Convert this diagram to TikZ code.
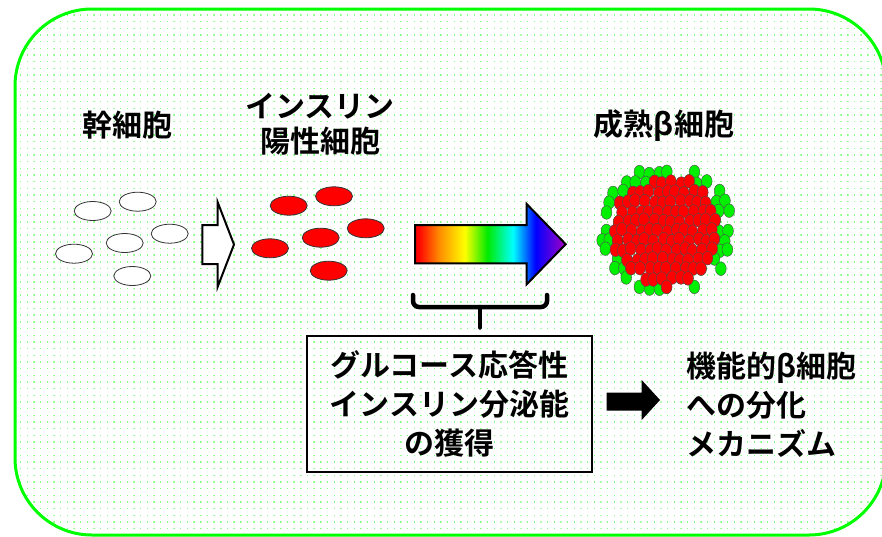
\documentclass[tikz,border=0pt]{standalone}
\usepackage{fontspec}
\setmainfont{Noto Sans CJK JP}[BoldFont={Noto Sans CJK JP Bold}]
\usetikzlibrary{patterns}

\definecolor{framegreen}{RGB}{0,255,0}
\definecolor{dotgreen}{RGB}{130,255,130}
\definecolor{cellred}{RGB}{255,0,0}
\definecolor{cellgreen}{RGB}{0,240,0}
\definecolor{brightgreen}{RGB}{0,235,0}
\definecolor{orangemid}{RGB}{255,140,0}
\definecolor{purpleend}{RGB}{150,0,200}

% light green dot grid used as the panel texture
\pgfdeclarepatternformonly{griddots}{\pgfpointorigin}{\pgfqpoint{1.4pt}{1.4pt}}{\pgfqpoint{6.67pt}{6.67pt}}{%
  \pgfpathrectangle{\pgfpointorigin}{\pgfqpoint{1.4pt}{1.4pt}}\pgfusepath{fill}}

% rainbow for the maturation arrow (TikZ maps 25bp..75bp onto the path)
\pgfdeclarehorizontalshading{rainbowsh}{100bp}{%
  color(0bp)=(red); color(26bp)=(red); color(33bp)=(orangemid); color(41.5bp)=(yellow);
  color(49bp)=(brightgreen); color(57.5bp)=(cyan); color(65bp)=(blue);
  color(74bp)=(purpleend); color(100bp)=(purpleend)}

\tikzset{
  lbl/.style={inner sep=0pt, font=\bfseries\fontsize{30}{39}\selectfont},
  stemcell/.style={draw=black!80, line width=0.8pt, fill=white},
  redcell/.style={draw=black!80, line width=0.8pt, fill=cellred},
  clred/.style={draw=black!70, line width=0.4pt, fill=cellred},
  clgreen/.style={draw=black!70, line width=0.4pt, fill=cellgreen},
  blockarrow/.style={draw=black, line width=2pt, line join=miter},
  textbox/.style={draw=black, line width=1.8pt, minimum width=285pt, minimum height=136pt,
    align=center, inner sep=0pt, font=\bfseries\fontsize{30}{39}\selectfont},
  bracket/.style={draw=black, line width=4.5pt, line cap=round, rounded corners=6pt}
}

% position of islet cell (i,j) on a jittered staggered grid, and its normalised radius
\newcommand\isletcell[2]{%
  \pgfmathsetmacro\cx{667+8.8*#1+4.4*mod(abs(#2),2)+1.2*sin(97*#1+151*#2+13)}%
  \pgfmathsetmacro\cy{230.5+9.6*#2+1.2*cos(61*#1*#2+113*#1+29*#2)}%
  \pgfmathsetmacro\rr{sqrt(((\cx-667)/64)^2+((\cy-230.5)/65)^2)}%
}

\begin{document}
\begin{tikzpicture}[x=1pt, y=-1pt]
  \useasboundingbox (0,0) rectangle (882,536);
  \fill[white] (0,0) rectangle (882,536);

  % panel
  \path[pattern=griddots, pattern color=dotgreen, rounded corners=77pt] (15,9) rectangle (886,535);
  \draw[framegreen, line width=3pt, rounded corners=77pt] (15,9) rectangle (886,535);

  % stem cells
  \foreach \x/\y in {92.7/211, 137.7/201.7, 169.7/233.7, 124.7/243, 74/253.7, 132.3/276}
    \draw[stemcell] (\x,\y) ellipse [x radius=18.5pt, y radius=9.5pt];

  % open arrow
  \draw[blockarrow, fill=white] (202.3,225) -- (217.7,225) -- (217.7,202.3) -- (234,244.5)
    -- (217.7,286.7) -- (217.7,264) -- (202.3,264) -- cycle;

  % insulin-positive cells
  \foreach \x/\y in {288.7/205.7, 334/196.3, 365.7/228.3, 320.7/237.7, 270/248.3, 328.7/270.7}
    \draw[redcell] (\x,\y) ellipse [x radius=18.5pt, y radius=9.5pt];

  % rainbow arrow
  \shadedraw[shading=rainbowsh, blockarrow] (415,225) -- (526.7,225) -- (526.7,204) -- (565.7,244.2)
    -- (526.7,284.3) -- (526.7,263.3) -- (415,263.3) -- cycle;

  % mature islet: green rim cells first, red core cells on top
  \foreach \j in {-8,...,8}{
    \foreach \i in {-9,...,9}{
      \isletcell{\i}{\j}
      \pgfmathtruncatemacro\ok{and(and(\rr>0.74,\rr<1.03),sin(53*\i+89*\j+7)>-0.7)}
      \ifnum\ok=1 \draw[clgreen] (\cx,\cy) ellipse [x radius=5.4pt, y radius=6.8pt];\fi
    }
  }
  \foreach \j in {-8,...,8}{
    \foreach \i in {-9,...,9}{
      \isletcell{\i}{\j}
      \pgfmathtruncatemacro\ok{\rr<0.84+0.04*sin(41*\i+137*\j+3)}
      \ifnum\ok=1 \draw[clred] (\cx,\cy) ellipse [x radius=5.4pt, y radius=6.8pt];\fi
    }
  }

  % labels
  \node[lbl] (stem) at (127.5,125) {幹細胞};
  \node[lbl, align=center, font=\bfseries\fontsize{30}{35}\selectfont] (inspos) at (320,124.5) {インスリン\\陽性細胞};
  \node[lbl] (mature) at (664,126) {成熟β細胞};

  % acquisition box and bracket
  \node[textbox] (acq) at (449.5,404) {グルコース応答性\\インスリン分泌能\\の獲得};
  \draw[bracket] (413,295) -- (413,307) -- (547,307) -- (547,295);
  \coordinate (stemtop) at (480,307);
  \coordinate (stemend) at (480,327.5);
  \draw[bracket] (stemtop) -- (stemend);

  % solid arrow and conclusion
  \fill[black] (606.7,392.5) -- (641.7,392.5) -- (641.7,380) -- (660,400) -- (641.7,420)
    -- (641.7,410.7) -- (606.7,410.7) -- cycle;
  \node[lbl, align=left, anchor=west] (mech) at (686,405) {機能的β細胞\\への分化\\メカニズム};
\end{tikzpicture}
\end{document}
